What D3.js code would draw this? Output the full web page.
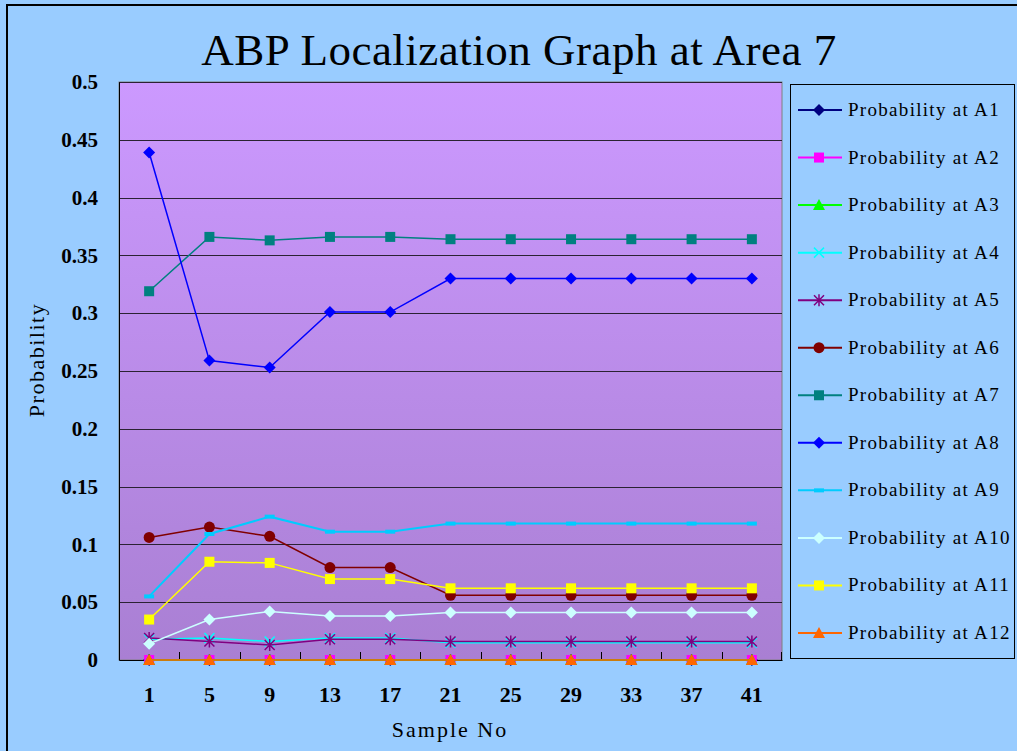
<!DOCTYPE html>
<html>
<head>
<meta charset="utf-8">
<script src="https://cdn.jsdelivr.net/npm/d3@7"></script>
<style>
  body { margin: 0; background: #99ccff; }
  svg { display: block; font-family: "Liberation Serif", "DejaVu Serif", serif; }
</style>
</head>
<body>
<div class="chart"></div>
<script>
// sample numbers on the x axis
let samples = ["1", "5", "9", "13", "17", "21", "25", "29", "33", "37", "41"];
let yTicks = [0, 0.05, 0.1, 0.15, 0.2, 0.25, 0.3, 0.35, 0.4, 0.45, 0.5];

// probability at each area
let a1  = [0, 0, 0, 0, 0, 0, 0, 0, 0, 0, 0];
let a2  = [0, 0, 0, 0, 0, 0, 0, 0, 0, 0, 0];
let a3  = [0, 0, 0, 0, 0, 0, 0, 0, 0, 0, 0];
let a4  = [0.018, 0.019, 0.016, 0.019, 0.019, 0.015, 0.015, 0.015, 0.015, 0.015, 0.015];
let a5  = [0.019, 0.016, 0.013, 0.018, 0.018, 0.016, 0.016, 0.016, 0.016, 0.016, 0.016];
let a6  = [0.106, 0.115, 0.107, 0.080, 0.080, 0.056, 0.056, 0.056, 0.056, 0.056, 0.056];
let a7  = [0.319, 0.366, 0.363, 0.366, 0.366, 0.364, 0.364, 0.364, 0.364, 0.364, 0.364];
let a8  = [0.439, 0.259, 0.253, 0.301, 0.301, 0.330, 0.330, 0.330, 0.330, 0.330, 0.330];
let a9  = [0.055, 0.109, 0.124, 0.111, 0.111, 0.118, 0.118, 0.118, 0.118, 0.118, 0.118];
let a10 = [0.014, 0.035, 0.042, 0.038, 0.038, 0.041, 0.041, 0.041, 0.041, 0.041, 0.041];
let a11 = [0.035, 0.085, 0.084, 0.070, 0.070, 0.062, 0.062, 0.062, 0.062, 0.062, 0.062];
let a12 = [0, 0, 0, 0, 0, 0, 0, 0, 0, 0, 0];

let seriesNames = ["Probability at A1", "Probability at A2", "Probability at A3", "Probability at A4",
  "Probability at A5", "Probability at A6", "Probability at A7", "Probability at A8",
  "Probability at A9", "Probability at A10", "Probability at A11", "Probability at A12"];

let styles = [
  {color: "#000080", marker: "diamond"},
  {color: "#ff00ff", marker: "square"},
  {color: "#00ff00", marker: "triangle"},
  {color: "#00ffff", marker: "x"},
  {color: "#800080", marker: "star"},
  {color: "#800000", marker: "circle"},
  {color: "#008080", marker: "square"},
  {color: "#0000ff", marker: "diamond"},
  {color: "#00ccff", marker: "dash"},
  {color: "#ccffff", marker: "diamond"},
  {color: "#ffff00", marker: "square"},
  {color: "#ff6600", marker: "triangle"}
];

let allValues = [a1, a2, a3, a4, a5, a6, a7, a8, a9, a10, a11, a12];
let series = seriesNames.map(function(n, i){
  return {name: n, values: allValues[i], color: styles[i].color, marker: styles[i].marker};
});

let W = 1017, H = 751;
let plot = {left: 119, right: 782, top: 82, bottom: 660};

let svg = d3.select(".chart").append("svg").attr("width", W).attr("height", H);

// outer frame
svg.append("rect").attr("x", 0).attr("y", 0).attr("width", W).attr("height", H).attr("fill", "#99ccff");
svg.append("rect").attr("x", 7).attr("y", 5).attr("width", W + 20).attr("height", H + 20)
  .attr("fill", "none").attr("stroke", "#000").attr("stroke-width", 2);

let defs = svg.append("defs");
let grad = defs.append("linearGradient").attr("id", "bg").attr("x1", 0).attr("y1", 0).attr("x2", 0).attr("y2", 1);
grad.append("stop").attr("offset", "0%").attr("stop-color", "#cc99ff");
grad.append("stop").attr("offset", "100%").attr("stop-color", "#a97fd3");

let xScale = d3.scaleBand().domain(samples).range([plot.left, plot.right]).padding(0);
let yScale = d3.scaleLinear().domain([0, 0.5]).range([plot.bottom, plot.top]);
let cx = function(i){ return xScale(samples[i]) + xScale.bandwidth() / 2; };

svg.append("rect")
  .attr("x", plot.left).attr("y", plot.top)
  .attr("width", plot.right - plot.left).attr("height", plot.bottom - plot.top)
  .attr("fill", "url(#bg)").attr("stroke", "#808080").attr("stroke-width", 1);

// gridlines
svg.append("g").selectAll("line").data(yTicks.slice(1)).enter().append("line")
  .attr("x1", plot.left).attr("x2", plot.right)
  .attr("y1", function(d){ return Math.round(yScale(d)) + 0.5; })
  .attr("y2", function(d){ return Math.round(yScale(d)) + 0.5; })
  .attr("stroke", "#2b2233").attr("stroke-width", 1);

// axes
let yAxis = d3.axisLeft(yScale).tickValues(yTicks).tickSize(0).tickPadding(21)
  .tickFormat(function(d){ return String(+d.toFixed(2)); });
let yAxisGroup = svg.append("g").attr("transform", "translate(" + plot.left + ",0)").call(yAxis);
yAxisGroup.select(".domain").attr("stroke", "#000");
yAxisGroup.selectAll("text").attr("font-size", 21).attr("font-weight", "bold").attr("fill", "#000")
  .attr("font-family", "Liberation Serif");

let xAxis = d3.axisBottom(xScale).tickSize(0).tickPadding(26);
let xAxisGroup = svg.append("g").attr("transform", "translate(0," + plot.bottom + ")").call(xAxis);
xAxisGroup.select(".domain").attr("stroke", "#000");
xAxisGroup.selectAll("text").attr("font-size", 22).attr("font-weight", "bold").attr("fill", "#000")
  .attr("font-family", "Liberation Serif");

// small inside ticks between categories
svg.append("g").selectAll("line").data(samples.slice(1).concat(["end"])).enter().append("line")
  .attr("x1", function(d){ return d == "end" ? plot.right - 0.5 : Math.round(xScale(d)) + 0.5; })
  .attr("x2", function(d){ return d == "end" ? plot.right - 0.5 : Math.round(xScale(d)) + 0.5; })
  .attr("y1", plot.bottom).attr("y2", plot.bottom - 8)
  .attr("stroke", "#000").attr("stroke-width", 1);

// marker drawing
function drawMarker(g, type, color, x, y){
  if(type == "diamond"){
    g.append("path").attr("d", "M" + x + "," + (y - 6) + "L" + (x + 6) + "," + y + "L" + x + "," + (y + 6) + "L" + (x - 6) + "," + y + "Z")
      .attr("fill", color);
  } else if(type == "square"){
    g.append("rect").attr("x", x - 5).attr("y", y - 5).attr("width", 10).attr("height", 10).attr("fill", color);
  } else if(type == "triangle"){
    g.append("path").attr("d", "M" + x + "," + (y - 6) + "L" + (x + 6) + "," + (y + 5) + "L" + (x - 6) + "," + (y + 5) + "Z")
      .attr("fill", color);
  } else if(type == "circle"){
    g.append("circle").attr("cx", x).attr("cy", y).attr("r", 5.5).attr("fill", color);
  } else if(type == "x"){
    g.append("path").attr("d", "M" + (x - 5) + "," + (y - 5) + "L" + (x + 5) + "," + (y + 5) + "M" + (x + 5) + "," + (y - 5) + "L" + (x - 5) + "," + (y + 5))
      .attr("stroke", color).attr("stroke-width", 1.5);
  } else if(type == "star"){
    g.append("path").attr("d", "M" + (x - 5) + "," + (y - 5) + "L" + (x + 5) + "," + (y + 5) + "M" + (x + 5) + "," + (y - 5) + "L" + (x - 5) + "," + (y + 5) + "M" + x + "," + (y - 6) + "L" + x + "," + (y + 6))
      .attr("stroke", color).attr("stroke-width", 1.5);
  } else if(type == "dash"){
    g.append("rect").attr("x", x - 5).attr("y", y - 2).attr("width", 10).attr("height", 4).attr("fill", color);
  }
}

let line = d3.line()
  .x(function(d, i){ return cx(i); })
  .y(function(d){ return yScale(d); });

let lines = svg.append("g");
series.forEach(function(s){
  let g = lines.append("g");
  g.append("path").datum(s.values).attr("d", line)
    .attr("fill", "none").attr("stroke", s.color).attr("stroke-width", s.marker == "dash" ? 2 : 1.5);
  s.values.forEach(function(v, i){
    drawMarker(g, s.marker, s.color, cx(i), yScale(v));
  });
});

// title
svg.append("text").attr("x", 519).attr("y", 65).attr("text-anchor", "middle")
  .attr("font-size", 45).attr("fill", "#000").attr("letter-spacing", 0.5)
  .text("ABP Localization Graph at Area 7");

// axis titles
svg.append("text").attr("x", 450).attr("y", 737).attr("text-anchor", "middle")
  .attr("font-size", 22).attr("letter-spacing", 2).attr("fill", "#000")
  .text("Sample No");
svg.append("text").attr("transform", "translate(44,360) rotate(-90)").attr("text-anchor", "middle")
  .attr("font-size", 22).attr("letter-spacing", 1.5).attr("fill", "#000")
  .text("Probability");

// legend
let legend = svg.append("g");
legend.append("rect").attr("x", 790.5).attr("y", 84.5).attr("width", 224).attr("height", 574)
  .attr("fill", "#99ccff").attr("stroke", "#000").attr("stroke-width", 1);
let legendY = d3.scalePoint().domain(seriesNames).range([110, 633]);
series.forEach(function(s){
  let y = legendY(s.name);
  let g = legend.append("g");
  g.append("line").attr("x1", 798).attr("x2", 842).attr("y1", y).attr("y2", y)
    .attr("stroke", s.color).attr("stroke-width", 2);
  drawMarker(g, s.marker, s.color, 819, y);
  g.append("text").attr("x", 848).attr("y", y + 6)
    .attr("font-size", 19).attr("letter-spacing", 1.3).attr("fill", "#000")
    .text(s.name);
});
</script>
</body>
</html>
